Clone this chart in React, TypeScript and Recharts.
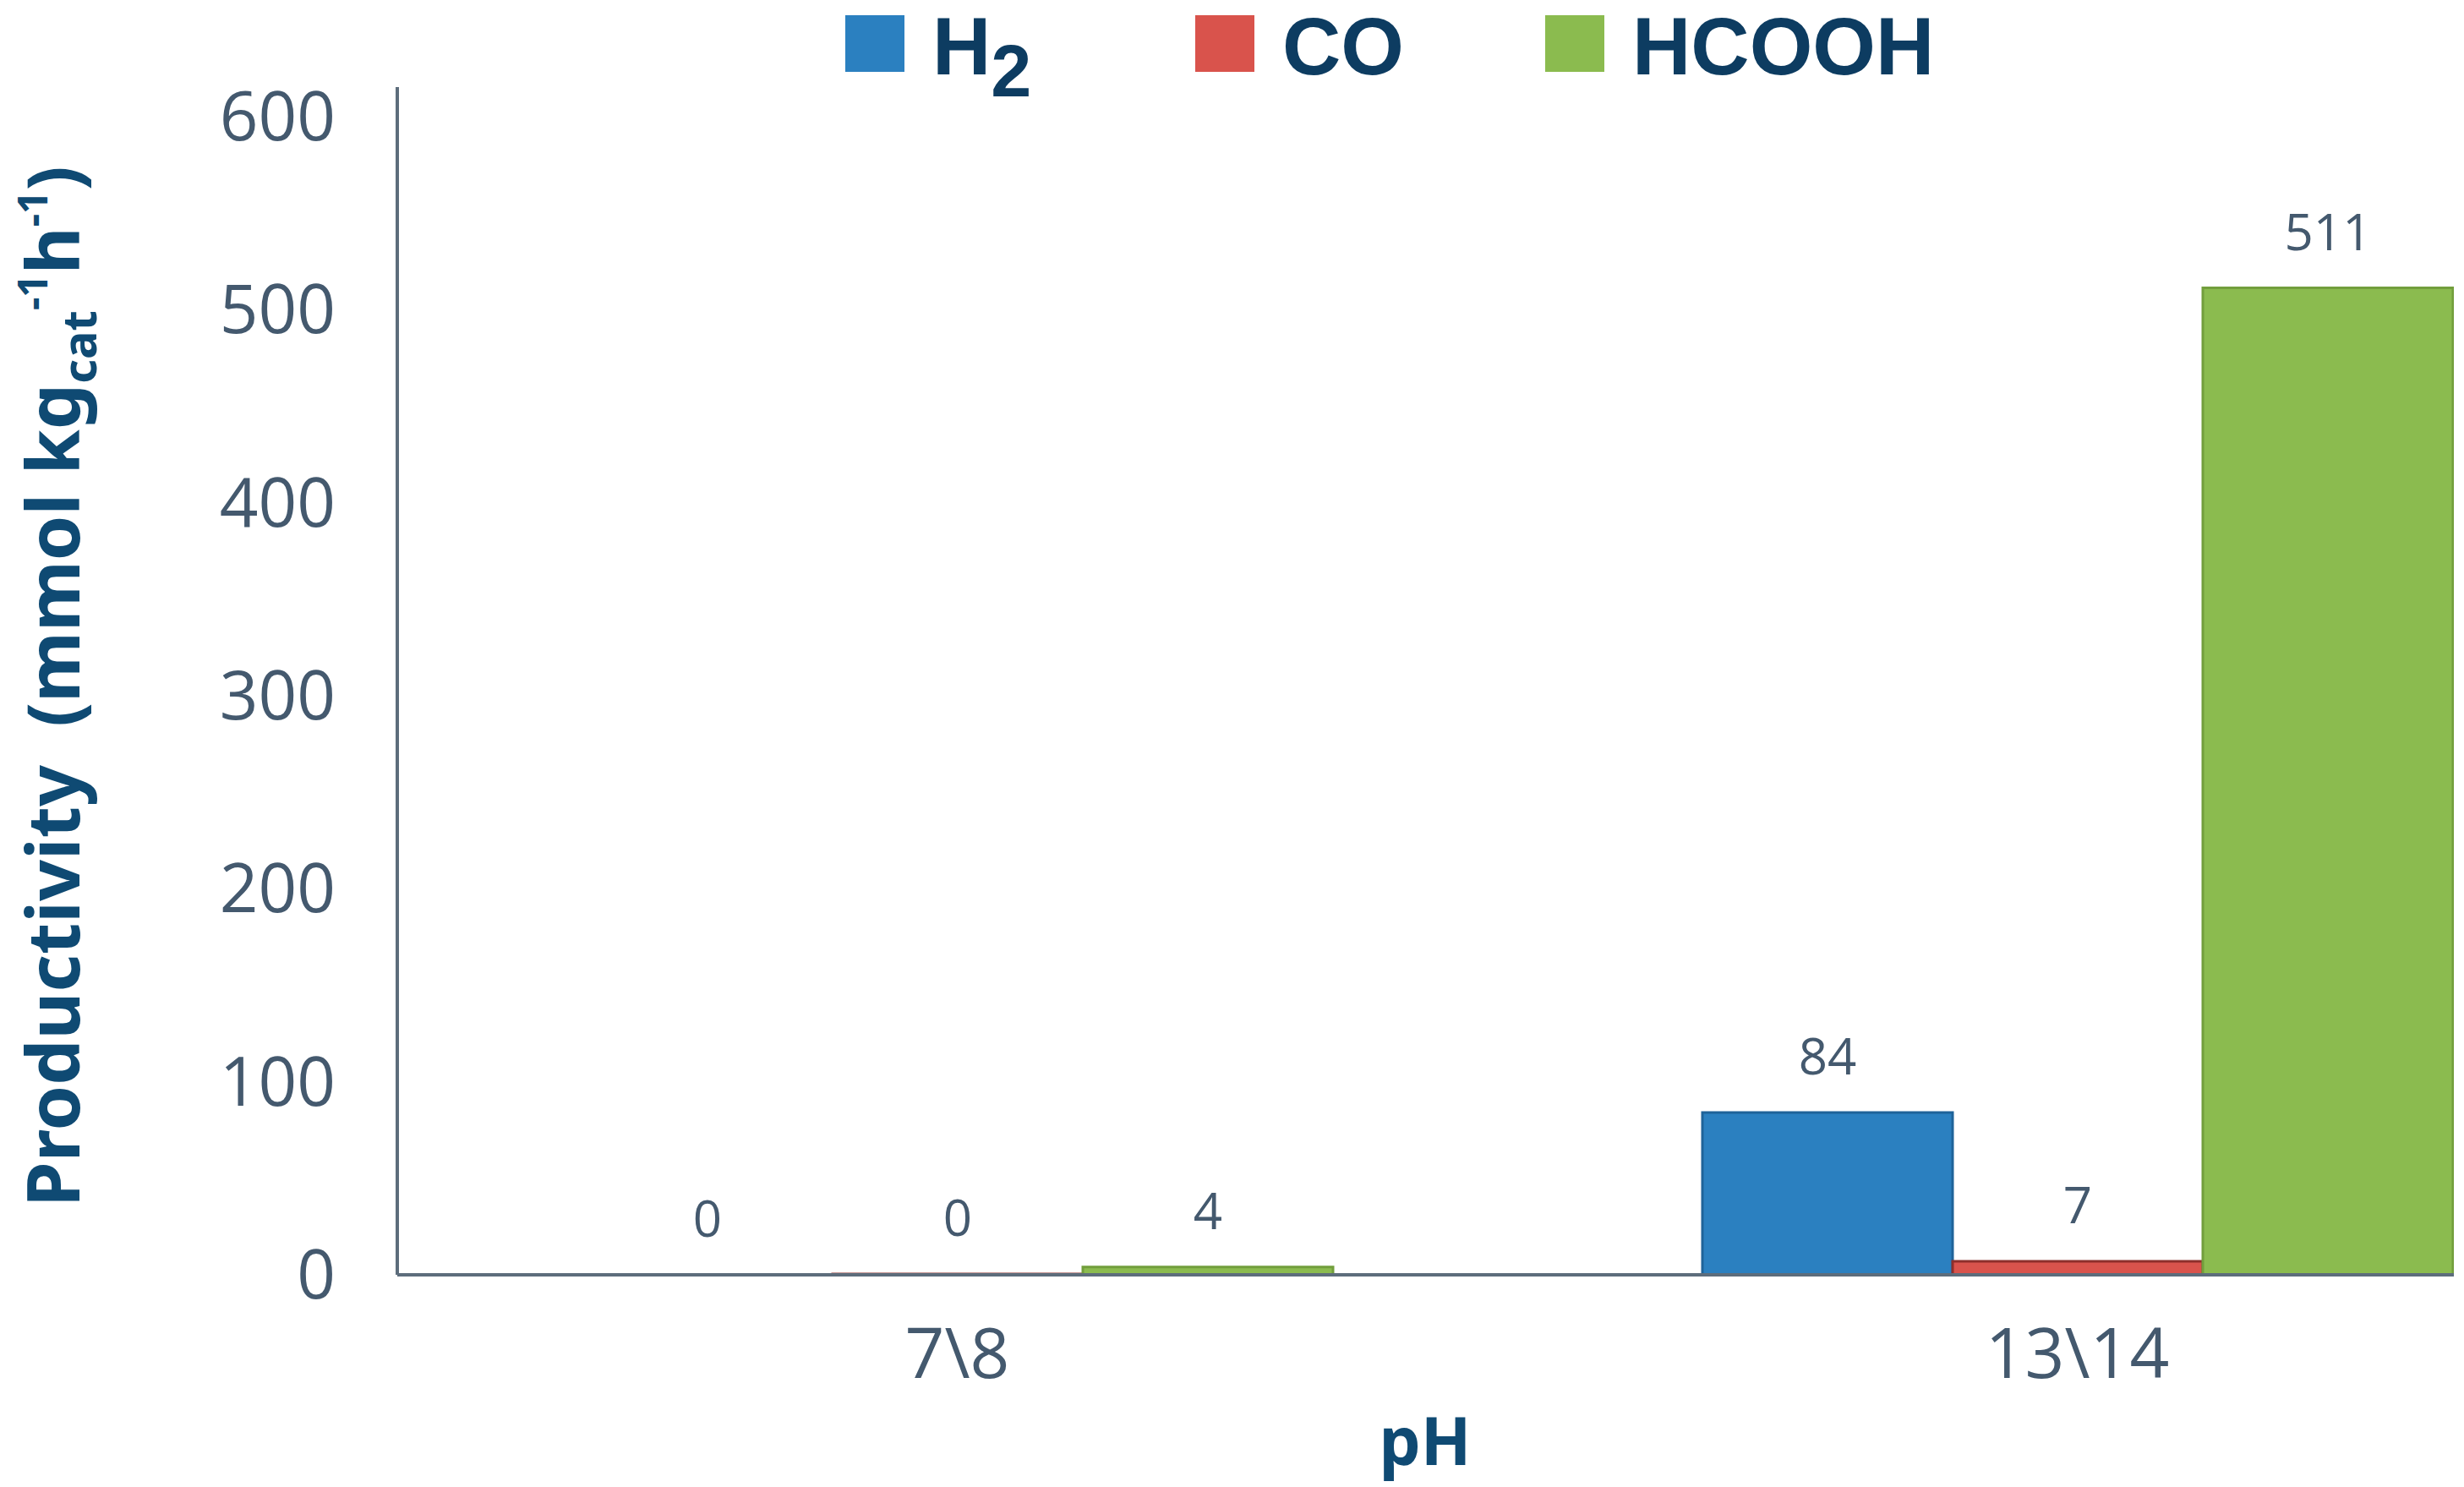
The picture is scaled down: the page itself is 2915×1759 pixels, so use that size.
import { Bar, BarChart, Cell, LabelList, Legend, XAxis, YAxis } from "recharts";

const categories = ["7\\8", "13\\14"];
const h2Values = [0, 84];
const coValues = [0.4, 7];
const hcoohValues = [4, 511];
const yTicks = [0, 100, 200, 300, 400, 500, 600];

const seriesNames = ["H2", "CO", "HCOOH"];
const seriesKeys = ["h2", "co", "hcooh"];
const seriesFill = ["#2b80c0", "#d9534c", "#8bbb4f"];
const seriesStroke = ["#1f6399", "#8e2f2b", "#729e3c"];

// a bar of exactly 0 gets no label in recharts, so nudge it to a hair above 0
const lift = (v: number) => (v === 0 ? 0.001 : v);

const data = categories.map((c, i) => ({
  cat: c,
  h2: lift(h2Values[i]),
  co: lift(coValues[i]),
  hcooh: lift(hcoohValues[i]),
}));

const AXIS = "#5d6d7c";
const TICK = "#44596e";
const NAVY = "#0f4a73";

function LegendName({ name }: { name: string }) {
  // chemical formula: trailing digit goes to subscript
  const m = name.match(/^([A-Z]+)(\d+)$/);
  if (!m) return <span>{name}</span>;
  return (
    <span>
      {m[1]}
      <span style={{ fontSize: "0.9em", position: "relative", top: 26 }}>{m[2]}</span>
    </span>
  );
}

function ChartLegend() {
  return (
    <div style={{
      display: "flex", alignItems: "flex-start", paddingLeft: 1000, paddingTop: 7,
      fontFamily: "Liberation Sans", fontWeight: 700, fontSize: 96, color: "#0d3c61", lineHeight: 1,
    }}>
      {seriesNames.map((n, i) => (
        <div key={n} style={{ display: "flex", alignItems: "flex-start", width: 414, flex: "none" }}>
          <div style={{
            width: 70, height: 67, flex: "none", background: seriesFill[i],
            marginRight: 33, marginTop: 11,
          }} />
          <LegendName name={n} />
        </div>
      ))}
    </div>
  );
}

function YTitle() {
  return (
    <text
      x={94} y={812} transform="rotate(-90, 94, 812)" textAnchor="middle"
      fontFamily="Noto Sans" fontWeight={700} fontSize={86} fill={NAVY}
      style={{ whiteSpace: "pre" }}
    >
      <tspan>{"Productivity  (mmol kg"}</tspan>
      <tspan fontSize={56} dy={20}>cat</tspan>
      <tspan fontSize={48} dy={-58}>-1</tspan>
      <tspan dy={38}>h</tspan>
      <tspan fontSize={48} dy={-38}>-1</tspan>
      <tspan dy={38}>)</tspan>
    </text>
  );
}

function XTitle() {
  return (
    <text x={1686} y={1733} textAnchor="middle" fontFamily="Noto Sans"
      fontWeight={700} fontSize={78} fill={NAVY}>pH</text>
  );
}

export default function App() {
  return (
    <div style={{
      position: "fixed", left: 0, top: 0, width: 2903, height: 1759,
      overflow: "hidden", background: "#fff",
    }}>
      <BarChart width={3120} height={1759} data={data}
        margin={{ top: 103, right: 0, bottom: 0, left: 0 }}
        barSize={296} barGap={0}>
        <XAxis dataKey="cat" height={251} axisLine={{ stroke: AXIS, strokeWidth: 4 }}
          tickLine={false} tickSize={0} tickMargin={64}
          tick={{ fill: TICK, fontSize: 82, fontFamily: "Open Sans" }}
          label={<XTitle />} />
        <YAxis type="number" domain={[0, 615]} ticks={yTicks} interval={0} width={470}
          axisLine={{ stroke: AXIS, strokeWidth: 4 }} tickLine={false}
          tickSize={0} tickMargin={73}
          tick={{ fill: TICK, fontSize: 80, fontFamily: "Open Sans" }}
          label={<YTitle />} />
        <Legend verticalAlign="middle" align="center" layout="horizontal"
          wrapperStyle={{ top: 0, left: 0, width: 2903 }}
          content={<ChartLegend />} />
        {seriesKeys.map((k, i) => (
          <Bar key={k} dataKey={k} name={seriesNames[i]} fill={seriesFill[i]}
            stroke={seriesStroke[i]} strokeWidth={3} isAnimationActive={false}>
            {data.map((d, j) => (
              <Cell key={j} strokeWidth={(d as any)[k] < 0.01 ? 0 : 3} />
            ))}
            <LabelList dataKey={k} position="top" offset={45}
              formatter={(v: number) => Math.round(v)}
              style={{ fill: TICK, fontSize: 60, fontFamily: "Open Sans" }} />
          </Bar>
        ))}
      </BarChart>
    </div>
  );
}
